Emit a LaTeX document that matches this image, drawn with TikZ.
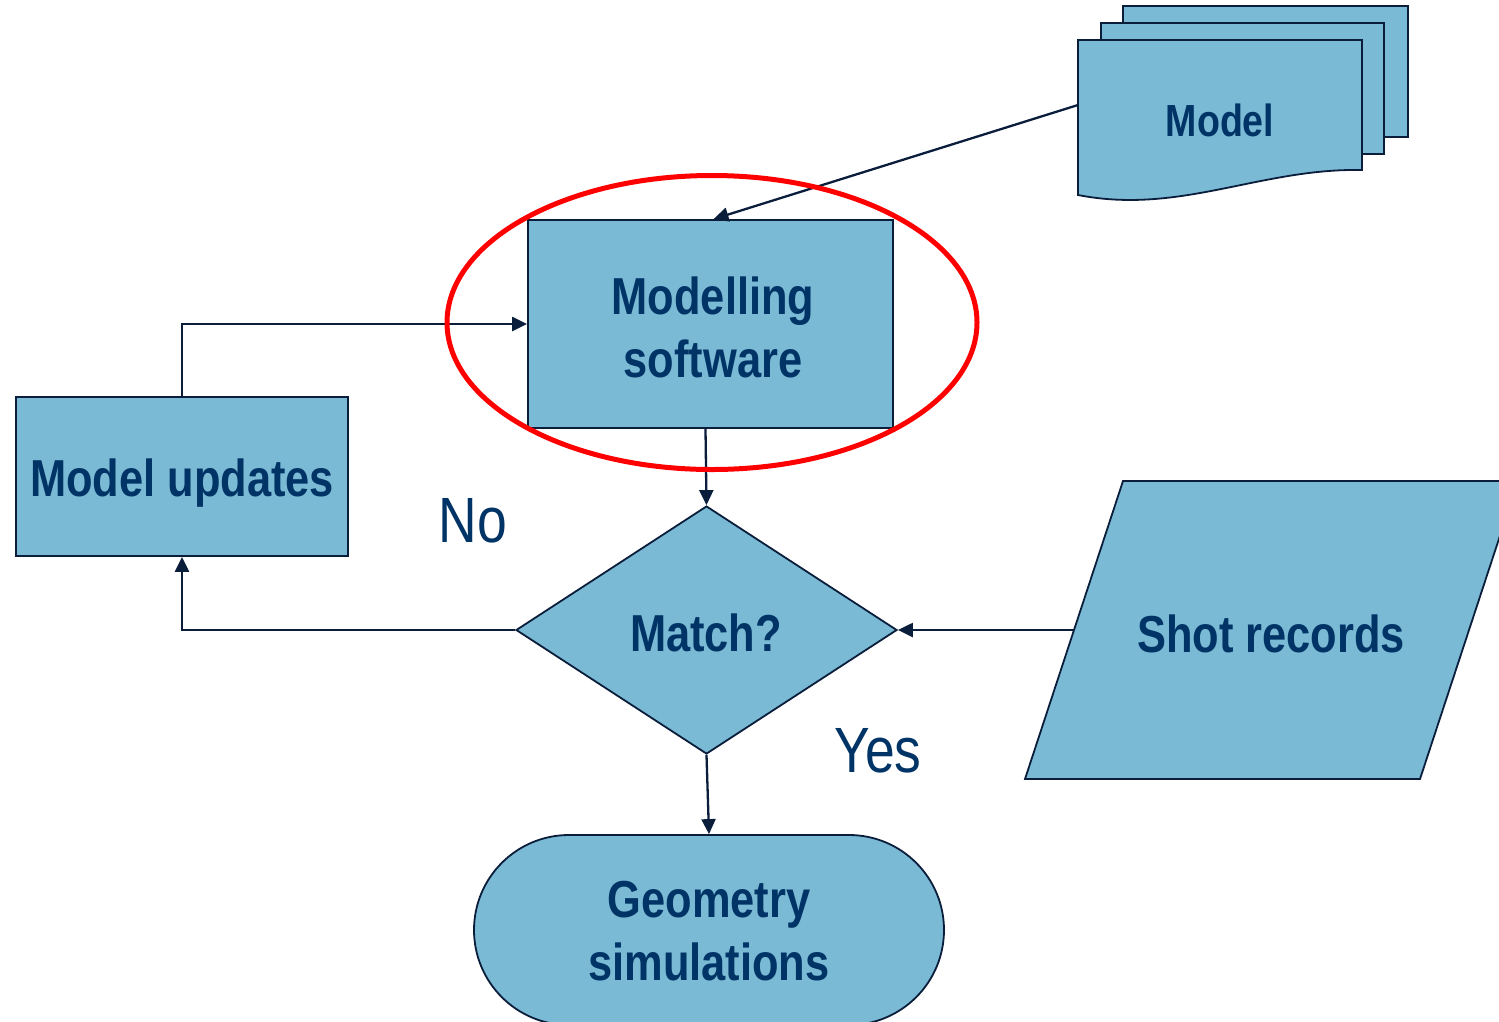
\documentclass[tikz,border=0pt]{standalone}
\usepackage{fontspec}
\newfontfamily\narrow{Liberation Sans}[FakeStretch=0.835]
\usetikzlibrary{arrows.meta,shapes.geometric}
\definecolor{boxfill}{RGB}{122,186,212}
\definecolor{txt}{RGB}{0,51,102}
\definecolor{edge}{RGB}{10,30,60}
\definecolor{ring}{RGB}{255,0,0}
\begin{document}
\begin{tikzpicture}[x=1pt,y=-1pt,
  shapebox/.style={draw=edge, line width=1.8pt, fill=boxfill, inner sep=0pt},
  shapefill/.style={draw=edge, line width=1.8pt, fill=boxfill},
  boxtext/.style={text=txt, inner sep=0pt, align=center, font=\narrow\bfseries\fontsize{52}{63}\selectfont},
  conn/.style={draw=edge, line width=2.3pt, -{Triangle[length=15pt,width=14pt]}},
  lbl/.style={text=txt, font=\narrow\fontsize{64}{70}\selectfont, inner sep=0pt}]
\useasboundingbox (0,0) rectangle (1499,1021);

% Modelling software
\node[shapebox, minimum width=365pt, minimum height=208pt] (ms) at (710.5,324) {};
\node[boxtext] (ms-t) at (713,327) {Modelling\\software};
% Model updates
\node[shapebox, minimum width=332pt, minimum height=159pt] (mu) at (182,476.5) {};
\node[boxtext] (mu-t) at (182,483) {Model updates};
% Decision
\node[shapebox, diamond, minimum width=381pt, minimum height=248pt, aspect=1.536] (dm) at (706.5,630) {};
\node[boxtext] (dm-t) at (706,633) {Match?};
% Shot records (parallelogram, cut by the page edge)
\path[shapefill] (1123,481) -- (1518,481) -- (1420,779) -- (1025,779) -- cycle;
\node[boxtext] (sr) at (1271,634) {Shot records};
\coordinate (srL) at (1074.3,630);
% Terminal
\node[shapebox, rounded corners=95pt, minimum width=470pt, minimum height=190pt] (gs) at (709,930) {};
\node[boxtext] (gs-t) at (709,931) {Geometry\\simulations};
% Document stack
\path[shapefill] (1123,6) rectangle (1408,137);
\path[shapefill] (1101,23) rectangle (1384,154);
\path[shapefill] (1078,40) -- (1362,40) -- (1362,170) .. controls (1260,168) and (1180,215) .. (1078,195) -- cycle;
\node[boxtext, font=\narrow\bfseries\fontsize{45}{50}\selectfont] (md) at (1220,120) {Model};
\coordinate (mdL) at (1078,105);

% Connectors
\draw[conn] (mdL) -- ([xshift=3pt]ms.north);
\draw[conn] (mu.north) |- (ms.west);
\draw[conn] ([xshift=-5pt]ms.south) -- (dm.north);
\draw[conn] (dm.west) -| (mu.south);
\draw[conn] (srL) -- (dm.east);
\draw[conn] (dm.south) -- (gs.north);

% Labels
\node[lbl] (no) at (473,521) {No};
\node[lbl] (yes) at (878,751) {Yes};

% Highlight ring
\draw[ring, line width=5pt] (712,322.5) ellipse [x radius=265, y radius=147];
\end{tikzpicture}
\end{document}
